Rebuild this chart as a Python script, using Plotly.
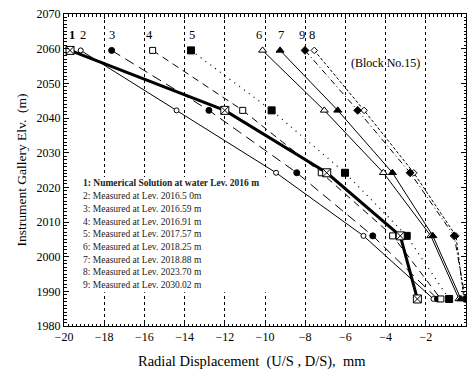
import plotly.graph_objects as go

# ---------------- data ----------------
elev = [2059.5, 2042.2, 2024.2, 2006.0, 1987.8]

s1 = [-19.70, -12.00, -6.93, -3.27, -2.42]
s2 = [-19.17, -14.40, -9.45, -5.10, -1.62]
s3 = [-17.63, -12.79, -8.42, -4.64, -1.42]
s4 = [-15.59, -11.11, -7.20, -3.65, -1.25]
s5 = [-13.68, -9.67, -6.02, -2.95, -0.84]
s6 = [-10.12, -7.05, -4.11, -1.75, -0.35]
s7 = [-9.25, -6.38, -3.66, -1.65, -0.25]
s8 = [-7.55, -5.07, -2.60, -0.50, -0.10]
s9 = [-8.01, -5.39, -2.78, -0.59, -0.03]

series_labels = ["1", "2", "3", "4", "5", "6", "7", "9", "8"]
series_label_x = [-19.62, -19.07, -17.60, -15.76, -13.62, -10.28, -9.20, -8.17, -7.68]
label_elev = 2064.0

legend_texts = [
    "<b>1: Numerical Solution at water Lev. 2016 m</b>",
    "2: Measured at Lev. 2016.5 0m",
    "3: Measured at Lev. 2016.59 m",
    "4: Measured at Lev. 2016.91 m",
    "5: Measured at Lev. 2017.57 m",
    "6: Measured at Lev. 2018.25 m",
    "7: Measured at Lev. 2018.88 m",
    "8: Measured at Lev. 2023.70 m",
    "9: Measured at Lev. 2030.02 m",
]

FONT = "Liberation Serif"

fig = go.Figure()

def add(xs, dash, width, symbol, size, fill):
    fig.add_trace(go.Scatter(
        x=xs, y=elev, mode="lines+markers",
        line=dict(color="black", width=width, dash=dash),
        marker=dict(symbol=symbol, size=size, color=fill,
                    line=dict(color="black", width=1)),
        showlegend=False, cliponaxis=True))

add(s2, "solid", 1, "circle", 5, "white")
add(s3, "10px,6px", 1, "circle", 6, "black")
add(s4, "7px,5px", 1, "square", 6, "white")
add(s5, "1px,5px", 1.2, "square", 7, "black")
add(s6, "solid", 1, "triangle-up", 7, "white")
add(s7, "solid", 1, "triangle-up", 7, "black")
add(s8, "3px,2px", 1, "diamond", 5, "white")
add(s9, "6px,3px,1px,3px", 1, "diamond", 6, "black")
add(s1, "solid", 3, "square-x", 8, "white")

# white box behind legend text (covers gridlines)
fig.add_shape(type="rect", xref="x", yref="y", x0=-19.4, x1=-9.6,
              y0=1989.7, y1=2023.0, fillcolor="white", line=dict(width=0),
              layer="between")

# series number labels
for t, xx in zip(series_labels, series_label_x):
    fig.add_annotation(x=xx, y=label_elev, text=("<b>%s</b>" % t) if t == "1" else t,
                       showarrow=False, font=dict(family=FONT, size=12.5, color="black"))

fig.add_annotation(x=-4.03, y=2055.8, text="(Block No.15)", showarrow=False,
                   font=dict(family=FONT, size=12, color="black"))

# legend text
y0 = 2021.15
step = 3.67
for i, t in enumerate(legend_texts):
    fig.add_annotation(x=-19.17, y=y0 - i * step, text=t, showarrow=False,
                       xanchor="left", yanchor="middle",
                       font=dict(family=FONT, size=9.5, color="#222"))

# x-axis title (placed slightly left of centre, as in the reference)
fig.add_annotation(xref="paper", yref="paper", x=0.468, y=-0.115,
                   text="Radial Displacement  (U/S , D/S),  mm", showarrow=False,
                   xanchor="center", yanchor="middle",
                   font=dict(family=FONT, size=14.5, color="black"))

axis_common = dict(
    showline=True, linecolor="black", linewidth=1, mirror="allticks",
    ticks="inside", ticklen=5, tickcolor="black", zeroline=False,
    tickfont=dict(family=FONT, size=12, color="black"),
)

fig.update_xaxes(range=[-20, 0], dtick=2, tick0=-20,
                 showgrid=True, gridcolor="black", griddash="dot", gridwidth=1,
                 minor=dict(ticks="inside", ticklen=2.5, dtick=0.2, tickcolor="black", showgrid=False),
                 **axis_common)
fig.update_yaxes(range=[1980, 2070], dtick=10, tick0=1980, showgrid=False,
                 minor=dict(ticks="inside", ticklen=2.5, dtick=1, tickcolor="black", showgrid=False),
                 title=dict(text="Instrument Gallery Elv.  (m)",
                            font=dict(family=FONT, size=13.5, color="black"), standoff=6),
                 **axis_common)

fig.update_layout(width=467, height=373,
                  margin=dict(l=64, r=1, t=14, b=47),
                  paper_bgcolor="white", plot_bgcolor="white",
                  font=dict(family=FONT, color="black"))

fig.write_html("out.html")
